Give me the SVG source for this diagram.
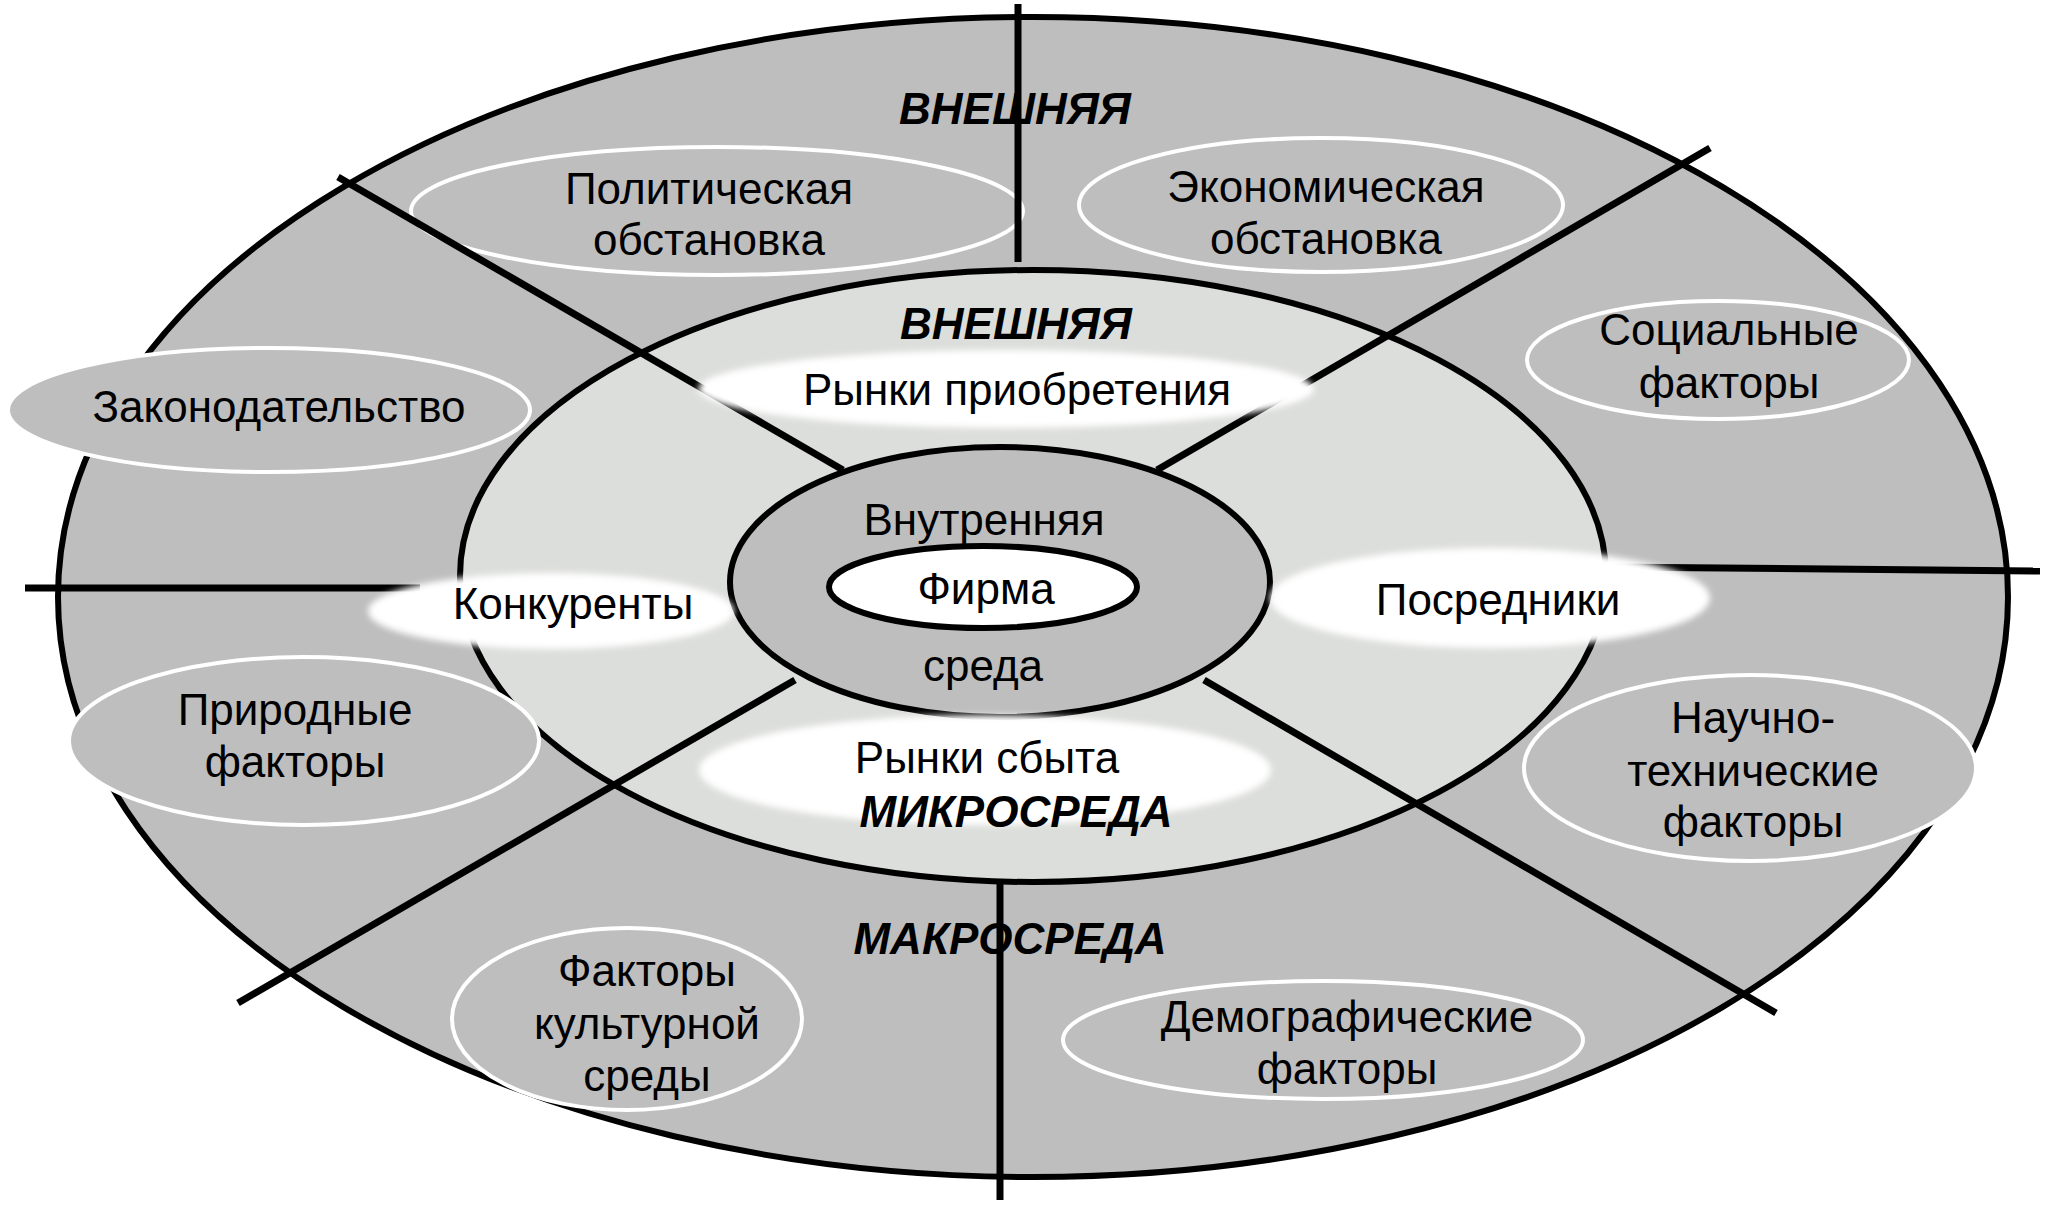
<svg xmlns="http://www.w3.org/2000/svg" width="2048" height="1205" viewBox="0 0 2048 1205">
<defs>
<filter id="soft" x="-10%" y="-30%" width="120%" height="160%"><feGaussianBlur stdDeviation="3"/></filter>
<style>
.ring{fill:#bebebe;stroke:#000;stroke-width:6}
.mid{fill:#dcdedb;stroke:#000;stroke-width:6}
.fac{fill:#bebebe;stroke:#fff;stroke-width:4}
.wh{fill:#fff;filter:url(#soft)}
.ln{stroke:#000;stroke-width:7;fill:none}
.t{font-family:"Liberation Sans",Arial,sans-serif;font-size:44px;fill:#000;text-anchor:middle}
.b{font-family:"Liberation Sans",Arial,sans-serif;font-size:44px;font-weight:bold;font-style:italic;fill:#000;text-anchor:middle}
</style>
</defs>
<rect width="2048" height="1205" fill="#fff"/>
<g id="macro"><ellipse class="ring" cx="1033" cy="597" rx="975" ry="580"/></g>
<g id="micro"><ellipse class="mid" cx="1033" cy="576" rx="573" ry="306"/></g>
<g id="internal"><ellipse class="ring" cx="1000" cy="582" rx="270" ry="135"/></g>
<g id="firm"><ellipse cx="983" cy="587" rx="154" ry="41" fill="#fff" stroke="#000" stroke-width="6"/></g>
<g id="political"><ellipse class="fac" cx="717" cy="211" rx="306" ry="64"/></g>
<g id="economic"><ellipse class="fac" cx="1321" cy="205" rx="242" ry="67"/></g>
<g id="social"><ellipse class="fac" cx="1718" cy="360" rx="191" ry="59"/></g>
<g id="legislation"><ellipse class="fac" cx="269" cy="410" rx="261" ry="62"/></g>
<g id="natural"><ellipse class="fac" cx="304" cy="741" rx="235" ry="84"/></g>
<g id="cultural"><ellipse class="fac" cx="627" cy="1019" rx="175" ry="91"/></g>
<g id="demographic"><ellipse class="fac" cx="1323" cy="1040" rx="260" ry="59"/></g>
<g id="scitech"><ellipse class="fac" cx="1750" cy="768" rx="226" ry="93"/></g>
<g id="connectors">
<line class="ln" x1="1018" y1="4" x2="1018" y2="262"/>
<line class="ln" x1="1000" y1="884" x2="1000" y2="1200"/>
<line class="ln" x1="25" y1="588" x2="420" y2="588"/>
<line class="ln" x1="1604" y1="567" x2="2040" y2="571"/>
<line class="ln" x1="338" y1="177" x2="843" y2="470"/>
<line class="ln" x1="1710" y1="148" x2="1157" y2="470"/>
<line class="ln" x1="238" y1="1003" x2="795" y2="680"/>
<line class="ln" x1="1204" y1="680" x2="1776" y2="1013"/>
</g>
<g id="purchase-markets"><ellipse class="wh" cx="1006" cy="389" rx="308" ry="39"/><text class="t" x="1017" y="405">Рынки приобретения</text></g>
<g id="competitors"><ellipse class="wh" cx="551" cy="611" rx="183" ry="38"/><text class="t" x="573" y="619">Конкуренты</text></g>
<g id="intermediaries"><ellipse class="wh" cx="1490" cy="598" rx="220" ry="50"/><text class="t" x="1498" y="615">Посредники</text></g>
<g id="sales-markets"><ellipse class="wh" cx="985" cy="770" rx="286" ry="55"/><text class="t" x="987" y="773">Рынки сбыта</text></g>
<g id="labels">
<text class="b" x="1015" y="124">ВНЕШНЯЯ</text>
<text class="b" x="1016" y="339">ВНЕШНЯЯ</text>
<text class="b" x="1016" y="827">МИКРОСРЕДА</text>
<text class="b" x="1010" y="954">МАКРОСРЕДА</text>
<text class="t" x="984" y="535">Внутренняя</text>
<text class="t" x="986" y="604">Фирма</text>
<text class="t" x="983" y="681">среда</text>
<text class="t" x="709" y="204">Политическая</text>
<text class="t" x="709" y="255">обстановка</text>
<text class="t" x="1326" y="202">Экономическая</text>
<text class="t" x="1326" y="254">обстановка</text>
<text class="t" x="1729" y="345">Социальные</text>
<text class="t" x="1729" y="398">факторы</text>
<text class="t" x="279" y="422">Законодательство</text>
<text class="t" x="295" y="725">Природные</text>
<text class="t" x="295" y="777">факторы</text>
<text class="t" x="647" y="986">Факторы</text>
<text class="t" x="647" y="1039">культурной</text>
<text class="t" x="647" y="1091">среды</text>
<text class="t" x="1347" y="1032">Демографические</text>
<text class="t" x="1347" y="1084">факторы</text>
<text class="t" x="1753" y="733">Научно-</text>
<text class="t" x="1753" y="786">технические</text>
<text class="t" x="1753" y="837">факторы</text>
</g>
</svg>
